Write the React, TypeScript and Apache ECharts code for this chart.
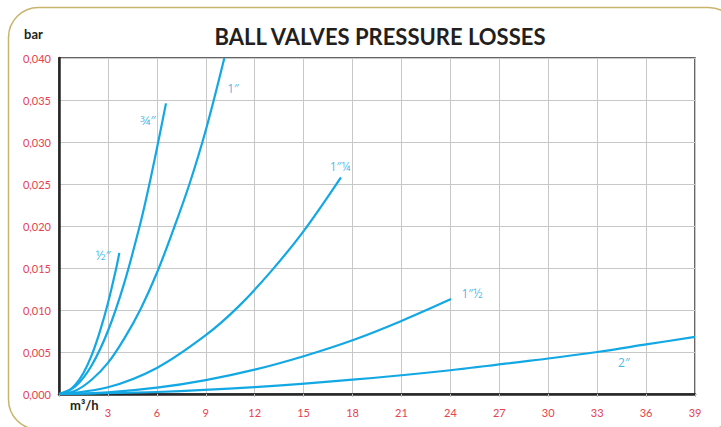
import React, { useEffect, useRef } from "react";
import * as echarts from "echarts";

// Flow rate (m³/h) and pressure loss (bar)
const half: [number, number][] = [[0, 0], [0.5, 0.00025], [1, 0.0011], [1.5, 0.0025], [2, 0.0046], [2.5, 0.0074], [3, 0.0108], [3.5, 0.0149], [3.7, 0.0168]];
const threeQuarter: [number, number][] = [[0, 0], [1, 0.0009], [2, 0.0034], [3, 0.0075], [4, 0.0132], [5, 0.0204], [5.5, 0.0246], [6, 0.0292], [6.56, 0.0346]];
const one: [number, number][] = [[0, 0], [1, 0.0004], [2, 0.0017], [3, 0.0037], [4, 0.0066], [5, 0.0101], [6, 0.0144], [7, 0.0195], [8, 0.0250], [9, 0.0314], [10.14, 0.040]];
const oneQuarter: [number, number][] = [[0, 0], [3, 0.0008], [6, 0.0031], [9, 0.0070], [11, 0.0104], [13, 0.0146], [15, 0.0194], [17.29, 0.0258]];
const oneHalf: [number, number][] = [[0, 0], [3, 0.0002], [6, 0.00075], [9, 0.00166], [12, 0.0029], [15, 0.0045], [18, 0.0064], [21, 0.0087], [24.04, 0.0113]];
const two: [number, number][] = [[0, 0], [6, 0.00024], [12, 0.00082], [18, 0.0017], [24, 0.00283], [30, 0.00423], [33, 0.0050], [36, 0.0059], [39, 0.0068]];

const seriesNames = ["½″", "¾″", "1″", "1″¼", "1″½", "2″"];
const seriesData = [half, threeQuarter, one, oneQuarter, oneHalf, two];
// label anchor points in data coordinates
const labelPoints: [number, number][] = [[2.7, 0.01655], [5.46, 0.0326], [10.67, 0.0364], [17.23, 0.0271], [25.32, 0.012], [34.64, 0.0038]];
const labelSizes = [13, 13, 12, 12, 12, 12];

const xMin = 0, xMax = 39, xStep = 3;
const yMin = 0, yMax = 0.04, yStep = 0.005;

const BLUE = "#13a8e4";
const RED = "#e8414f";
const FONT = "Lato, 'Open Sans', sans-serif";
const LABEL_FONT = "'Open Sans', Lato, sans-serif";

export default function App() {
  const ref = useRef<HTMLDivElement>(null);
  useEffect(() => {
    if (!ref.current) return;
    const chart = echarts.init(ref.current, undefined, { renderer: "svg" });
    const lines = seriesData.map((d, i) => ({
      type: "line",
      name: seriesNames[i],
      data: d,
      smooth: 0.35,
      showSymbol: false,
      symbol: "none",
      lineStyle: { color: BLUE, width: 2.2 },
      z: 3,
    }));
    const labels = seriesNames.map((n, i) => ({
      type: "scatter",
      data: [labelPoints[i]],
      symbolSize: 0,
      silent: true,
      label: {
        show: true,
        position: "inside",
        formatter: n,
        color: BLUE,
        fontFamily: LABEL_FONT,
        fontSize: labelSizes[i],
      },
      z: 4,
    }));
    chart.setOption({
      animation: false,
      backgroundColor: "#ffffff",
      grid: { left: 59, top: 58, right: 26, bottom: 33, show: true, borderColor: "#333", borderWidth: 1.5, backgroundColor: "transparent" },
      xAxis: {
        type: "value",
        min: xMin,
        max: xMax,
        interval: xStep,
        axisLine: { show: true, onZero: false, lineStyle: { color: "#262626", width: 2.5 } },
        axisTick: { show: true, length: 3, lineStyle: { color: "#bbb" } },
        splitLine: { show: true, lineStyle: { color: "#c8c8c8", width: 1 } },
        axisLabel: {
          color: RED,
          fontFamily: FONT,
          fontSize: 11,
          margin: 13,
          formatter: (v: number) => (v === 0 ? "" : String(v)),
        },
      },
      yAxis: {
        type: "value",
        min: yMin,
        max: yMax,
        interval: yStep,
        axisLine: { show: true, onZero: false, lineStyle: { color: "#262626", width: 2.5 } },
        axisTick: { show: false },
        splitLine: { show: true, lineStyle: { color: "#c8c8c8", width: 1 } },
        axisLabel: {
          color: RED,
          fontFamily: FONT,
          fontSize: 11,
          margin: 8,
          formatter: (v: number) => v.toFixed(3).replace(".", ","),
        },
      },
      graphic: [
        {
          type: "rect",
          shape: { x: 8.5, y: 7.5, width: 730, height: 422, r: 30 },
          style: { fill: "none", stroke: "#c9b46c", lineWidth: 1.5 },
          silent: true,
          z: -1,
        },
        {
          type: "text",
          x: 380,
          y: 36,
          style: { text: "BALL VALVES PRESSURE LOSSES", fill: "#231f20", font: `bold 22px ${FONT}`, textAlign: "center", textVerticalAlign: "middle" },
        },
        {
          type: "text",
          x: 24,
          y: 34,
          style: { text: "bar", fill: "#231f20", font: `bold 13px ${FONT}`, textAlign: "left", textVerticalAlign: "middle" },
        },
        {
          type: "text",
          x: 70,
          y: 405,
          style: { text: "m³/h", fill: "#231f20", font: `bold 13px ${FONT}`, textAlign: "left", textVerticalAlign: "middle" },
        },
      ],
      series: [...lines, ...labels],
    });
    return () => chart.dispose();
  }, []);
  return <div ref={ref} style={{ position: "absolute", left: 0, top: 0, width: 721, height: 427 }} />;
}
